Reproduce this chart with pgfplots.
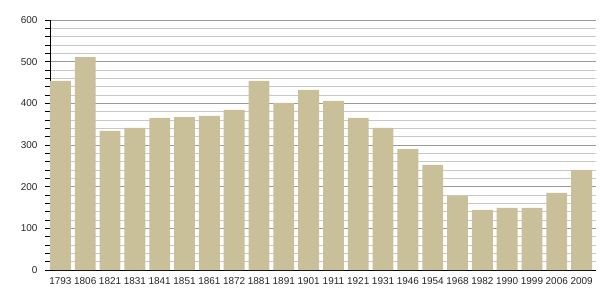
\documentclass[border=0pt]{standalone}
\usepackage{pgfplots}
\pgfplotsset{compat=1.18}
\usepackage{fontspec}
\setmainfont{Liberation Sans}
\definecolor{barc}{HTML}{C9BF98}
\definecolor{majg}{HTML}{9A9A9A}
\definecolor{ming}{HTML}{C8C8C8}
\begin{document}
\begin{tikzpicture}
\begin{axis}[
  scale only axis,
  width=546bp, height=250bp,
  xmin=-0.42, xmax=21.58,
  ymin=0, ymax=600,
  axis x line=bottom, axis y line=left,
  axis line style={-, black, line width=0.8pt},
  xtick={0,...,21},
  xticklabels={1793,1806,1821,1831,1841,1851,1861,1872,1881,1891,1901,1911,1921,1931,1946,1954,1968,1982,1990,1999,2006,2009},
  x tick style={draw=none},
  ytick={0,100,...,600},
  minor y tick num=4,
  y tick style={black, line width=0.6pt},
  tick align=outside,
  major tick length=5bp, minor tick length=5bp,
  ymajorgrids, yminorgrids,
  major grid style={majg, line width=0.6pt},
  minor grid style={ming, line width=0.6pt},
  tick label style={font=\fontsize{10}{12}\selectfont, text=black!85},
  /pgf/number format/assume math mode=true,
  xticklabel style={yshift=1bp},
  yticklabel style={xshift=-4bp},
  clip=false,
]
\addplot[ybar, bar width=0.84, bar shift=0, fill=barc, draw=none] coordinates {
(0,454) (1,511) (2,334) (3,341) (4,365) (5,367) (6,370) (7,384) (8,454) (9,401)
(10,432) (11,406) (12,365) (13,341) (14,290) (15,252) (16,178) (17,144) (18,149) (19,149) (20,185) (21,240)
};
\draw[black, line width=0.8pt] (rel axis cs:0,0) ++(-5bp,0) -- (rel axis cs:0,0);
\end{axis}
\path ([shift={(-50bp,-30bp)}]current axis.south west) rectangle ([shift={(9bp,20bp)}]current axis.north east);
\end{tikzpicture}
\end{document}
